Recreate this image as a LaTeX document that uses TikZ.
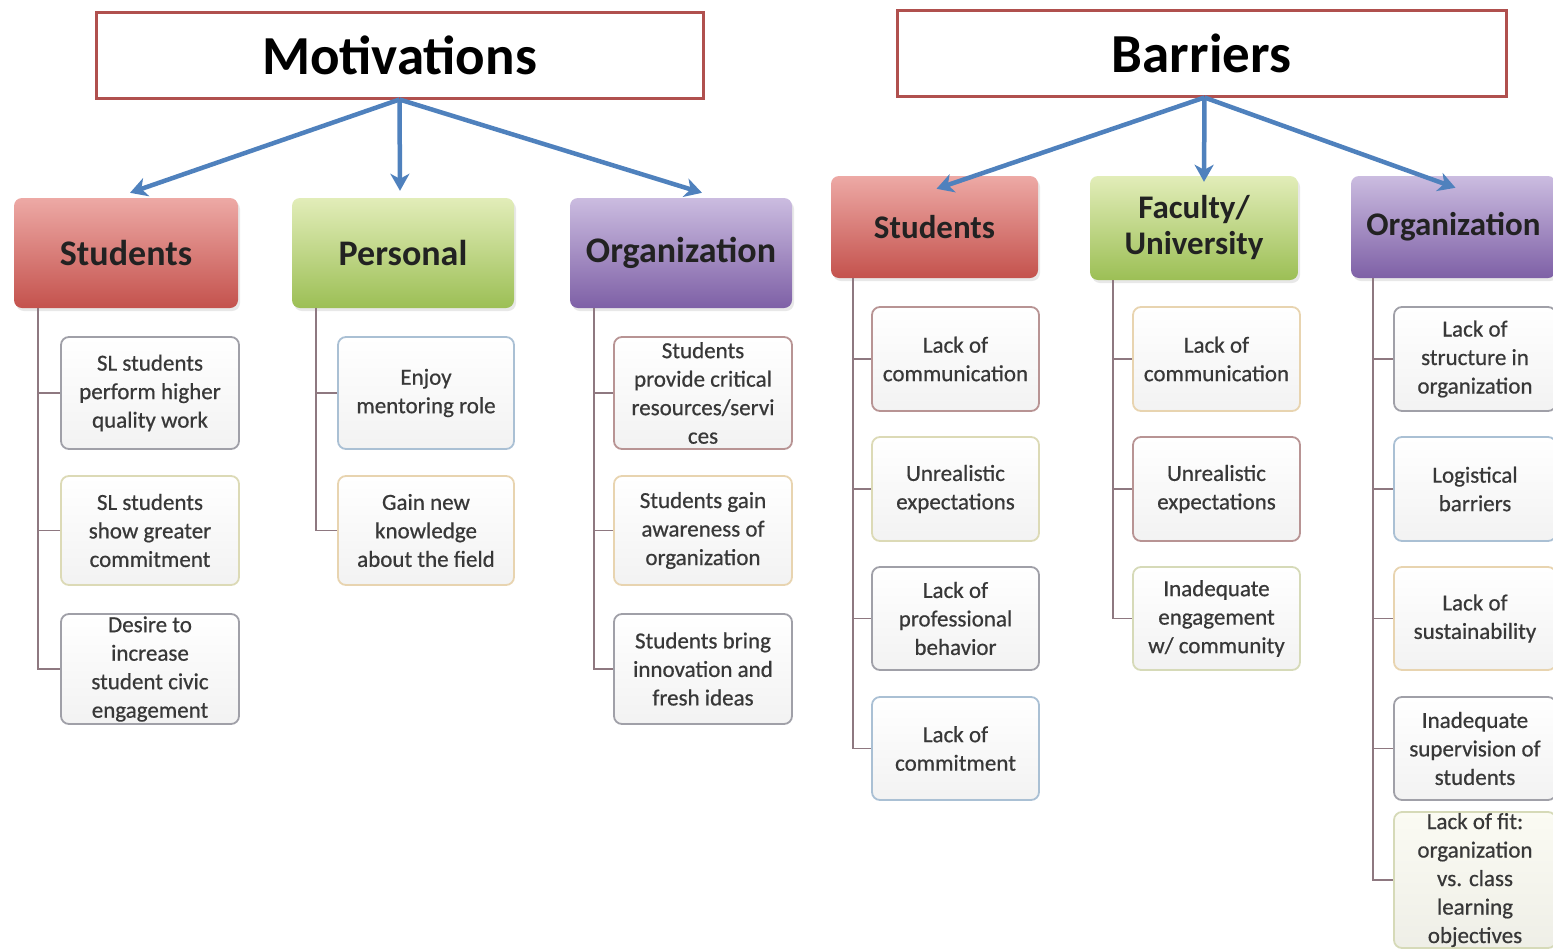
\documentclass[tikz,border=0pt]{standalone}
\usepackage{fontspec}
\setmainfont{Carlito}
\newfontfamily\childfont[FakeBold=0.6]{Carlito}
\usetikzlibrary{arrows.meta,shadows,calc}
\definecolor{titleborder}{HTML}{B0504E}
\definecolor{arrowblue}{HTML}{4F81BD}
\definecolor{connc}{HTML}{8E7880}
\definecolor{txtc}{HTML}{383838}
\definecolor{headtxt}{HTML}{222222}
\definecolor{redTop}{HTML}{EDA9A5}
\definecolor{redBot}{HTML}{C4524D}
\definecolor{grnTop}{HTML}{E2EDB9}
\definecolor{grnBot}{HTML}{9CBF55}
\definecolor{purTop}{HTML}{CBBCE0}
\definecolor{purBot}{HTML}{7E60A6}
\definecolor{bGray}{HTML}{A0A0A8}
\definecolor{bRed}{HTML}{B89494}
\definecolor{bTan}{HTML}{E8D4B0}
\definecolor{bTanG}{HTML}{DCDAB6}
\definecolor{bBlue}{HTML}{AAC0D4}
\definecolor{bGreen}{HTML}{D6DAB8}
\definecolor{cream}{HTML}{FBFBF3}
\newcommand{\cbox}[7]{%
  \node[cb, draw=#6, minimum width={#4-#2}, minimum height={#5-#3}] (#1) at ({(#2+#4)/2},{(#3+#5)/2}) {#7};}
\begin{document}
\begin{tikzpicture}[x=1pt,y=-1pt,
  titlebox/.style={draw=titleborder, line width=3pt, fill=white, inner sep=0pt,
    font=\fontsize{55}{60}\selectfont\bfseries, text=black,
    drop shadow={opacity=0.15, shadow xshift=2pt, shadow yshift=-2pt}},
  head/.style={rounded corners=8pt, inner sep=0pt, align=center, text=headtxt,
    drop shadow={opacity=0.18, shadow xshift=2pt, shadow yshift=-3pt}},
  mhead/.style={head, font=\fontsize{36}{38}\selectfont\bfseries},
  bhead/.style={head, font=\fontsize{33}{36}\selectfont\bfseries},
  redh/.style={top color=redTop, bottom color=redBot},
  grnh/.style={top color=grnTop, bottom color=grnBot},
  purh/.style={top color=purTop, bottom color=purBot},
  cb/.style={rounded corners=8pt, line width=1.8pt, top color=white, bottom color=white!95!black,
    align=center, inner sep=0pt, text=txtc, font=\childfont\fontsize{23}{28.5}\selectfont},
  arr/.style={draw=arrowblue, line width=4.5pt, -{Stealth[length=17pt,width=19pt,inset=5pt]}},
  conn/.style={draw=connc, line width=1.8pt}
]
\clip (0,0) rectangle (1553,951);
\fill[white] (0,0) rectangle (1553,951);

% titles
\node[titlebox, minimum width=607pt, minimum height=86pt] (mot) at (399.5,55) {Motivations};
\node[titlebox, minimum width=609pt, minimum height=86pt] (bar) at (1201.5,53) {Barriers};

% headings (motivations)
\node[mhead, redh, minimum width=224pt, minimum height=110pt] (mS) at (126,253) {Students};
\node[mhead, grnh, minimum width=222pt, minimum height=110pt] (mP) at (403,253) {Personal};
\node[mhead, purh, minimum width=222pt, minimum height=110pt] (mO) at (681,253) {Organization};

% headings (barriers)
\node[bhead, redh, minimum width=207pt, minimum height=102pt] (bS) at (934.5,227) {Students};
\node[bhead, grnh, minimum width=208pt, minimum height=104pt] (bF) at (1194,228) {Faculty/\\University};
\node[bhead, purh, minimum width=205pt, minimum height=102pt] (bO) at (1453.5,227) {Organization};

% arrows
\draw[arr] (mot.south) -- ($(mS.north)+(4,-5)$);
\draw[arr] (mot.south) -- ($(mP.north)+(-3,-7)$);
\draw[arr] (mot.south) -- ($(mO.north)+(21,-5)$);
\draw[arr] ($(bar.south)+(3,0)$) -- ($(bS.north)+(2,13)$);
\draw[arr] ($(bar.south)+(3,0)$) -- ($(bF.north)+(10,6)$);
\draw[arr] ($(bar.south)+(3,0)$) -- ($(bO.north)+(2,12)$);

% children: motivations / students
\cbox{mS1}{61}{337}{239}{449}{bGray}{SL students\\perform higher\\quality work}
\cbox{mS2}{61}{476}{239}{585}{bTanG}{SL students\\show greater\\commitment}
\cbox{mS3}{61}{614}{239}{724}{bGray}{Desire to\\increase\\student civic\\engagement}
% personal
\cbox{mP1}{338}{337}{514}{449}{bBlue}{Enjoy\\mentoring role}
\cbox{mP2}{338}{476}{514}{585}{bTan}{Gain new\\knowledge\\about the field}
% organization
\cbox{mO1}{614}{337}{792}{449}{bRed}{Students\\provide critical\\resources/servi\\ces}
\cbox{mO2}{614}{476}{792}{585}{bTan}{Students gain\\awareness of\\organization}
\cbox{mO3}{614}{614}{792}{724}{bGray}{Students bring\\innovation and\\fresh ideas}
% barriers / students
\cbox{bS1}{872}{307}{1039}{411}{bRed}{Lack of\\communication}
\cbox{bS2}{872}{437}{1039}{541}{bTanG}{Unrealistic\\expectations}
\cbox{bS3}{872}{567}{1039}{670}{bGray}{Lack of\\professional\\behavior}
\cbox{bS4}{872}{697}{1039}{800}{bBlue}{Lack of\\commitment}
% faculty
\cbox{bF1}{1133}{307}{1300}{411}{bTan}{Lack of\\communication}
\cbox{bF2}{1133}{437}{1300}{541}{bRed}{Unrealistic\\expectations}
\cbox{bF3}{1133}{567}{1300}{670}{bGreen}{Inadequate\\engagement\\w/ community}
% organization
\cbox{bO1}{1394}{307}{1556}{411}{bGray}{Lack of\\structure in\\organization}
\cbox{bO2}{1394}{437}{1556}{541}{bBlue}{Logistical\\barriers}
\cbox{bO3}{1394}{567}{1556}{670}{bTan}{Lack of\\sustainability}
\cbox{bO4}{1394}{697}{1556}{800}{bGray}{Inadequate\\supervision of\\students}
\node[cb, draw=bGreen, top color=cream, bottom color=cream!95!black, minimum width=162pt, minimum height=136pt] (bO5) at (1475,880) {Lack of fit:\\organization\\vs. class\\learning\\objectives};

% trunks
\coordinate (tmS) at ($(mS.south west)+(24,0)$);
\coordinate (tmP) at ($(mP.south west)+(24,0)$);
\coordinate (tmO) at ($(mO.south west)+(24,0)$);
\coordinate (tbS) at ($(bS.south west)+(22,0)$);
\coordinate (tbF) at ($(bF.south west)+(23,0)$);
\coordinate (tbO) at ($(bO.south west)+(22,0)$);

\draw[conn] (tmS) |- (mS3.west);
\draw[conn] (mS1.west) -- (mS1.west -| tmS);
\draw[conn] (mS2.west) -- (mS2.west -| tmS);

\draw[conn] (tmP) |- (mP2.west);
\draw[conn] (mP1.west) -- (mP1.west -| tmP);

\draw[conn] (tmO) |- (mO3.west);
\draw[conn] (mO1.west) -- (mO1.west -| tmO);
\draw[conn] (mO2.west) -- (mO2.west -| tmO);

\draw[conn] (tbS) |- (bS4.west);
\draw[conn] (bS1.west) -- (bS1.west -| tbS);
\draw[conn] (bS2.west) -- (bS2.west -| tbS);
\draw[conn] (bS3.west) -- (bS3.west -| tbS);

\draw[conn] (tbF) |- (bF3.west);
\draw[conn] (bF1.west) -- (bF1.west -| tbF);
\draw[conn] (bF2.west) -- (bF2.west -| tbF);

\draw[conn] (tbO) |- (bO5.west);
\draw[conn] (bO1.west) -- (bO1.west -| tbO);
\draw[conn] (bO2.west) -- (bO2.west -| tbO);
\draw[conn] (bO3.west) -- (bO3.west -| tbO);
\draw[conn] (bO4.west) -- (bO4.west -| tbO);
\end{tikzpicture}
\end{document}
